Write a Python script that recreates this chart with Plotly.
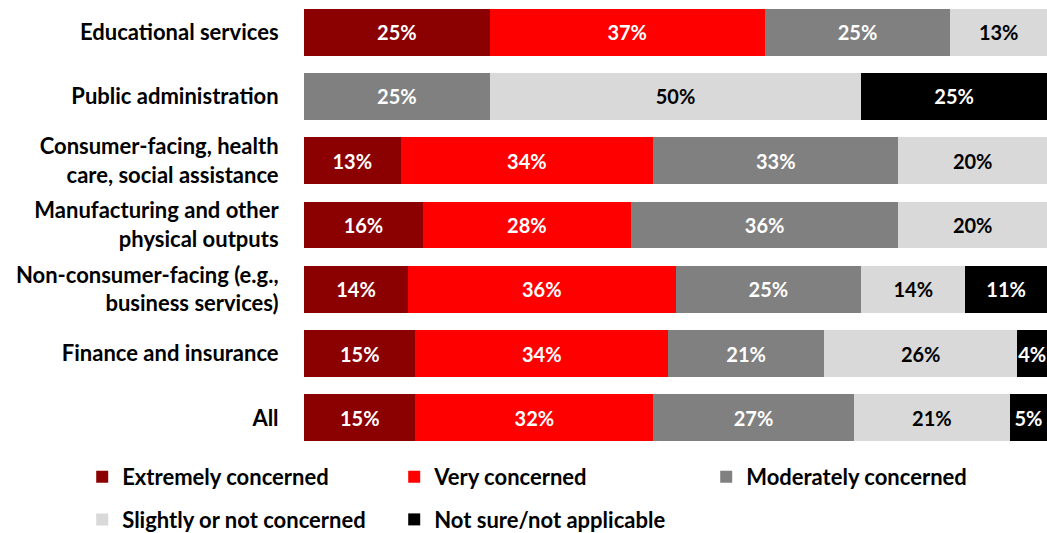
import plotly.graph_objects as go

categories = [
    "Educational services",
    "Public administration",
    "Consumer-facing, health<br>care, social assistance",
    "Manufacturing and other<br>physical outputs",
    "Non-consumer-facing (e.g.,<br>business services)",
    "Finance and insurance",
    "All",
]
series_names = [
    "Extremely concerned",
    "Very concerned",
    "Moderately concerned",
    "Slightly or not concerned",
    "Not sure/not applicable",
]
extremely = [25, 0, 13, 16, 14, 15, 15]
very = [37, 0, 34, 28, 36, 34, 32]
moderately = [25, 25, 33, 36, 25, 21, 27]
slightly = [13, 50, 20, 20, 14, 26, 21]
not_sure = [0, 25, 0, 0, 11, 4, 5]

colors = ["#8B0000", "#FF0000", "#808080", "#D9D9D9", "#000000"]
text_colors = ["white", "white", "white", "black", "white"]
legend_ids = ["legend", "legend", "legend", "legend2", "legend2"]

FONT = "Lato, 'Open Sans', sans-serif"

fig = go.Figure()
for name, vals, col, tcol, lg in zip(series_names, [extremely, very, moderately, slightly, not_sure],
                                     colors, text_colors, legend_ids):
    fig.add_trace(go.Bar(
        y=categories,
        x=vals,
        name=name,
        orientation="h",
        marker=dict(color=col, line=dict(width=0)),
        text=[f"<b>{v}%</b>" if v > 0 else "" for v in vals],
        textposition="inside",
        insidetextanchor="middle",
        textangle=0,
        textfont=dict(color=tcol, size=20, family=FONT),
        cliponaxis=False,
        hoverinfo="skip",
        legend=lg,
    ))

legend_common = dict(
    orientation="h",
    x=-0.2985,
    xanchor="left",
    yanchor="top",
    entrywidth=267,
    entrywidthmode="pixels",
    font=dict(family=FONT, size=22, color="black", weight="bold"),
    traceorder="normal",
    itemwidth=30,
    bgcolor="rgba(0,0,0,0)",
)

fig.update_layout(
    barmode="stack",
    bargap=0.27,
    width=1047,
    height=533,
    margin=dict(l=304, r=0, t=0, b=83, autoexpand=False),
    plot_bgcolor="white",
    paper_bgcolor="white",
    font=dict(family=FONT, size=19, color="black"),
    uniformtext=dict(minsize=20, mode="show"),
    xaxis=dict(range=[0, 100], visible=False, showgrid=False, zeroline=False),
    yaxis=dict(
        autorange="reversed",
        automargin=False,
        showgrid=False,
        zeroline=False,
        showline=False,
        ticks="outside",
        ticklen=20,
        tickcolor="rgba(0,0,0,0)",
        tickfont=dict(family=FONT, size=22, color="black", weight="bold"),
    ),
    showlegend=True,
    legend=dict(legend_common, y=-0.013),
    legend2=dict(legend_common, y=-0.108),
)

fig.write_html("out.html", config={"displayModeBar": False},
               post_script="document.body.style.margin='0';")
